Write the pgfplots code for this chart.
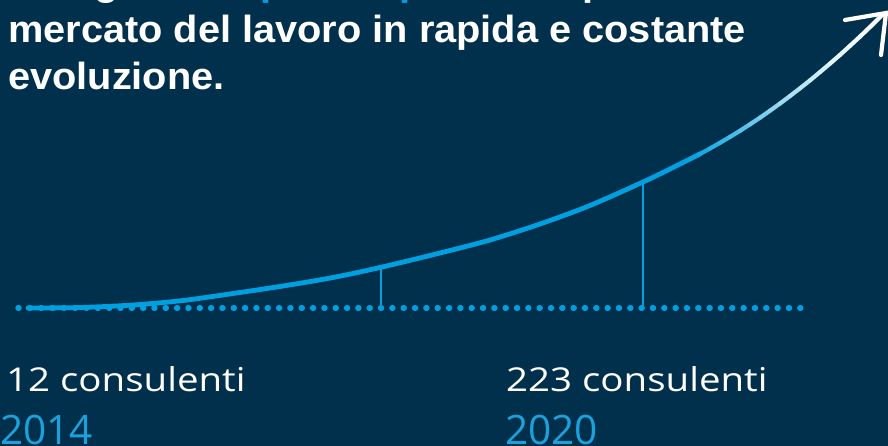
\documentclass[border=0pt]{standalone}
\usepackage{pgfplots}
\pgfplotsset{compat=1.18}
\usepackage{fontspec}
\setmainfont{Liberation Sans}
\newfontfamily\opensans{Open Sans}

\definecolor{navy}{HTML}{00304C}
\definecolor{cblue}{HTML}{00A0E0}
\definecolor{yblue}{HTML}{1BA1DB}

\begin{document}
\begin{tikzpicture}
\begin{axis}[
    scale only axis, width=888bp, height=446bp,
    xmin=0, xmax=888, ymin=0, ymax=446, y dir=reverse,
    axis lines=none, ticks=none, clip=false,
    axis background/.style={fill=navy},
    colormap={fade}{color(0)=(cblue) color(690)=(cblue) color(730)=(cblue!75!white) color(790)=(cblue!35!white) color(840)=(cblue!8!white) color(888)=(white)},
    point meta min=0, point meta max=888,
]
% dotted base line
\addplot[cblue, line width=5.4bp, line cap=round, dash pattern=on 1bp off 10.33bp]
    coordinates {(18,308) (803,308)};
% drop lines at 2014 and 2020
\addplot[cblue, line width=2bp] coordinates {(381,308) (381,267)};
\addplot[cblue, line width=2bp] coordinates {(643,308) (643,182)};
% growth curve, lower part
\addplot[cblue, smooth, line width=4.8bp, line cap=round] coordinates {
    (28,308) (80,307.5) (133,305) (183,300.5) (233,293.5) (283,286)
    (333,277.5) (380,267.5) (440,253) (490,240) (540,224) (590,205.5)
    (643,182) (670,169) (690,159) (700,153.9)};
% growth curve, upper part fading to white
\addplot[mesh, point meta=x, line width=4.2bp, line join=round, line cap=round] coordinates {
    (690,159) (700,153.9) (710,148.5) (720,142.8) (730,136.9) (740,130.8)
    (750,124.3) (760,117.7) (770,110.7) (780,103.5) (790,96.0) (800,88.3)
    (810,80.4) (820,72.1) (830,63.6) (840,54.9) (850,45.8) (860,36.6)
    (870,27.0) (883,14.3)};
% arrow head
\addplot[white, line width=4.2bp, line cap=round, line join=miter] coordinates {(845,20) (886,13) (881,55)};

\node[anchor=base west, text=white, font=\bfseries\fontsize{38}{44}\selectfont, inner sep=0pt]
    at (axis cs:8,-4) {\scalebox{1.05}[1]{Una grande \textcolor{cblue}{spinta e passione} per un}};
\node[anchor=base west, text=white, font=\bfseries\fontsize{38}{44}\selectfont, inner sep=0pt]
    at (axis cs:8,43) {\scalebox{1.05}[1]{mercato del lavoro in rapida e costante}};
\node[anchor=base west, text=white, font=\bfseries\fontsize{38}{44}\selectfont, inner sep=0pt]
    at (axis cs:8,90) {\scalebox{1.05}[1]{evoluzione.}};

\node[anchor=base west, text=white, font=\opensans\fontsize{33}{40}\selectfont, inner sep=0pt]
    at (axis cs:6,391) {\scalebox{1.17}[1]{12 consulenti}};
\node[anchor=base west, text=yblue, font=\opensans\fontsize{37}{44}\selectfont, inner sep=0pt]
    at (axis cs:0,444) {\scalebox{1.1}[1.1]{2014}};
\node[anchor=base west, text=white, font=\opensans\fontsize{33}{40}\selectfont, inner sep=0pt]
    at (axis cs:506,391) {\scalebox{1.17}[1]{223 consulenti}};
\node[anchor=base west, text=yblue, font=\opensans\fontsize{37}{44}\selectfont, inner sep=0pt]
    at (axis cs:505,444) {\scalebox{1.1}[1.1]{2020}};
\end{axis}
\pgfresetboundingbox
\useasboundingbox (0,0) rectangle (888bp,446bp);
\end{tikzpicture}
\end{document}
